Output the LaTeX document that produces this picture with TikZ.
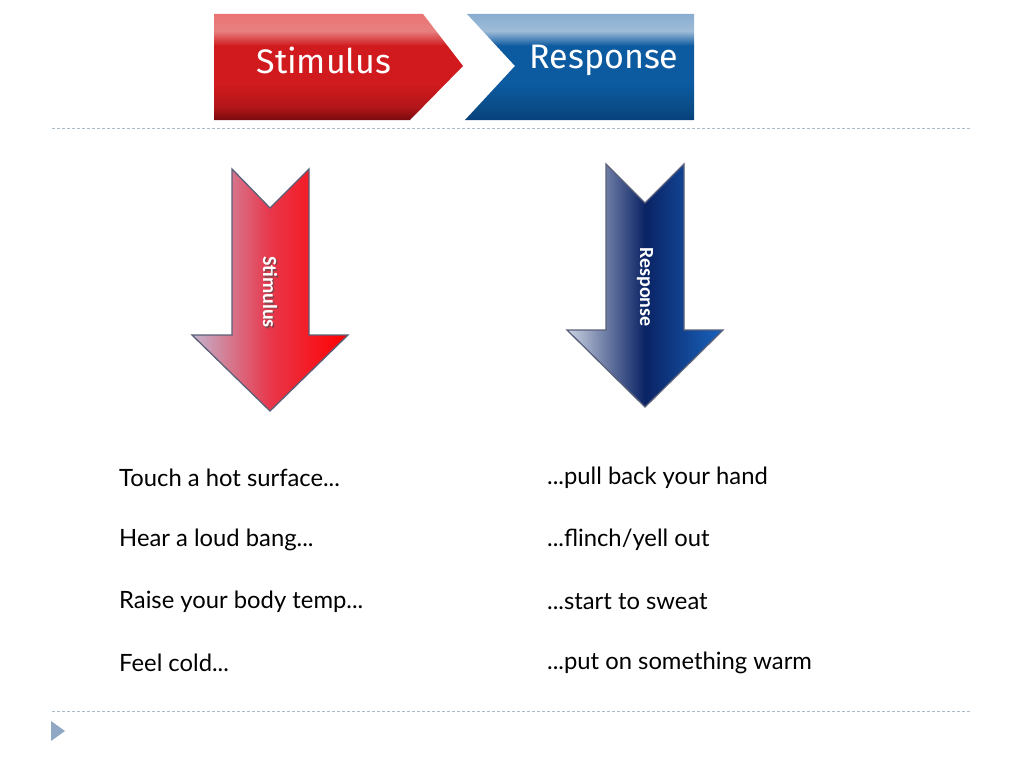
\documentclass[tikz,border=0pt]{standalone}
\usepackage{fontspec}
\setmainfont{Lato}
\newfontfamily\arrowfont{Carlito}
\newfontfamily\bannerfont{Fira Sans}
\usetikzlibrary{shadings}
\definecolor{dashc}{HTML}{A8BCCC}
\definecolor{edgec}{HTML}{5A6078}
\definecolor{bulletc}{HTML}{8FA8C4}
\definecolor{bluelo}{HTML}{08407A}
\definecolor{bluemid}{HTML}{0C5AA0}
\definecolor{bluehi}{HTML}{9FBCD8}
\definecolor{redlo}{HTML}{7A0A0E}
\definecolor{redmid}{HTML}{D01A1E}
\definecolor{redhi}{HTML}{E88080}
\pgfdeclareverticalshading{glossred}{100bp}{
  color(0bp)=(redlo); color(25bp)=(redlo); color(31bp)=(redmid!85!black); color(42bp)=(redmid);
  color(60bp)=(redmid); color(67bp)=(redhi); color(75bp)=(redhi!90!red); color(100bp)=(redhi!90!red)}
\pgfdeclareverticalshading{glossblue}{100bp}{
  color(0bp)=(bluelo); color(25bp)=(bluelo); color(31bp)=(bluemid!85!black); color(42bp)=(bluemid);
  color(60bp)=(bluemid); color(67bp)=(bluehi); color(75bp)=(bluehi!85!bluemid); color(100bp)=(bluehi!85!bluemid)}
\tikzset{
  dashline/.style={draw=dashc, line width=0.9pt, dash pattern=on 3pt off 2pt},
  listtext/.style={anchor=west, inner sep=0pt, font=\fontsize{23.8}{28}\selectfont},
  arrowtext/.style={text=white, rotate=-90, inner sep=0pt, font=\arrowfont\bfseries\fontsize{20}{24}\selectfont},
  bannertext/.style={text=white, inner sep=0pt, font=\bannerfont\fontsize{34}{40}\selectfont},
  bigarrow/.style={draw=edgec, line width=1.3pt, line join=miter}
}
\begin{document}
\begin{tikzpicture}[x=1pt,y=-1pt]
\useasboundingbox (0,0) rectangle (1024,768);
% banner
\shade[shading=glossred]
  (214,14) -- (423,14) -- (463,66) -- (410,120) -- (214,120) -- cycle;
\shade[shading=glossblue]
  (467,14) -- (694,14) -- (694,120) -- (465,120) -- (515,66) -- cycle;
\node[bannertext] (bs) at (324,60) {Stimulus};
\node[bannertext] (br) at (604,60) {Response};
% dashed lines
\coordinate (d1a) at (52,128); \coordinate (d1b) at (972,128);
\coordinate (d2a) at (52,711); \coordinate (d2b) at (972,711);
\draw[dashline] (d1a) -- (d1b);
\draw[dashline] (d2a) -- (d2b);
% bullet
\fill[bulletc] (51,721) -- (65,731) -- (51,741) -- cycle;
% stimulus arrow
\shade[bigarrow, left color={rgb,255:red,195;green,180;blue,205}, right color=red, middle color={rgb,255:red,232;green,55;blue,75}]
  (232,169) -- (270,208) -- (309,169) -- (309,335) -- (348,335) -- (270,411) -- (192,335) -- (232,335) -- cycle;
\node[arrowtext, text=black!70, opacity=0.6] at (271.5,293.5) {Stimulus};
\node[arrowtext] (sa) at (270,292) {Stimulus};
% response arrow
\shade[bigarrow, left color={rgb,255:red,205;green,212;blue,228}, right color={rgb,255:red,25;green,100;blue,190}, middle color={rgb,255:red,10;green,35;blue,100}]
  (606,164) -- (645,203) -- (684,164) -- (684,330) -- (723,330) -- (645,407) -- (567,330) -- (606,330) -- cycle;
\node[arrowtext] (ra) at (645,287) {Response};
% list
\node[listtext] (l1) at (119,478) {Touch a hot surface...};
\node[listtext] (l2) at (119,540) {Hear a loud bang...};
\node[listtext] (l3) at (119,602) {Raise your body temp...};
\node[listtext] (l4) at (119,663) {Feel cold...};
\node[listtext] (r1) at (547,478) {...pull back your hand};
\node[listtext] (r2) at (547,540) {...flinch/yell out};
\node[listtext] (r3) at (547,602) {...start to sweat};
\node[listtext] (r4) at (547,663) {...put on something warm};
\end{tikzpicture}
\end{document}
